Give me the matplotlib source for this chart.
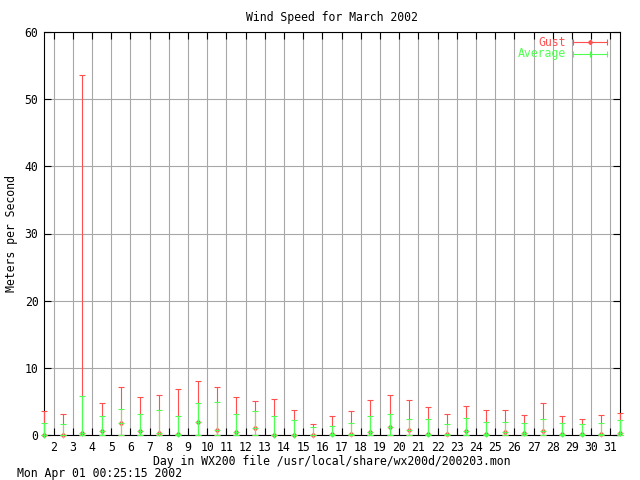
import matplotlib
matplotlib.use("Agg")
import matplotlib.pyplot as plt
import numpy as np

days = list(range(1, 32))
gust_max = [3.55, 3.1, 53.6, 4.75, 7.15, 5.65, 5.95, 6.85, 8.05, 7.15, 5.65, 5.05, 5.35, 3.7, 1.6, 2.8,
            3.55, 5.2, 5.95, 5.2, 4.15, 3.1, 4.3, 3.7, 3.7, 2.95, 4.75, 2.8, 2.35, 2.95, 3.25]
avg_max = [1.75, 1.6, 5.8, 2.8, 3.85, 3.15, 3.7, 2.8, 4.75, 4.9, 3.15, 3.55, 2.8, 2.2, 1.15, 1.3,
           1.8, 2.8, 3.1, 2.35, 2.35, 1.6, 2.5, 1.9, 1.9, 1.75, 2.35, 1.75, 1.6, 1.75, 2.2]
point_val = [0, 0, 0.25, 0.6, 1.75, 0.6, 0.25, 0.15, 1.9, 0.75, 0.45, 1.0, 0.05, 0.05, 0, 0.1,
             0.1, 0.45, 1.15, 0.75, 0.1, 0.1, 0.65, 0.1, 0.45, 0.25, 0.65, 0.1, 0.1, 0.1, 0.25]
low = [0] * 31
xticks = list(range(2, 32))
yticks = [0, 10, 20, 30, 40, 50, 60]

RED = '#ff5050'
GREEN = '#50ff50'
GREY = '#a8a8a8'
FONT = 'DejaVu Sans Mono'
FS = 8.3
LW = 0.8

fig = plt.figure(figsize=(6.4, 4.8), dpi=100)
ax = fig.add_axes([44/640, 1-435/480, 576/640, 403/480])

x = np.array(days) + 0.5
pv = np.array(point_val)
# gust
c1 = ax.errorbar(x, pv, yerr=[pv - np.array(low), np.array(gust_max) - pv], fmt='D', color=RED,
                 ms=2.2, mew=0.8, elinewidth=LW, capsize=2.3, capthick=LW, zorder=3)
# average
c2 = ax.errorbar(x, pv, yerr=[pv - np.array(low), np.array(avg_max) - pv], fmt='+', color=GREEN,
                 ms=4.5, mew=LW, elinewidth=LW, capsize=2.3, capthick=LW, zorder=4)
for c in (c1, c2):
    for art in c.get_children():
        art.set_clip_on(False)

ax.set_xlim(1.5, 31.5)
ax.set_ylim(0, 60)
ax.set_xticks(xticks)
ax.set_yticks(yticks)
ax.set_xticklabels([str(t) for t in xticks], fontfamily=FONT, fontsize=FS)
ax.set_yticklabels([str(t) for t in yticks], fontfamily=FONT, fontsize=FS)
ax.tick_params(direction='in', length=5, width=LW, top=True, right=True, pad=4, colors='black')
ax.grid(True, color=GREY, linewidth=LW, zorder=0)
ax.set_axisbelow(True)
for s in ax.spines.values():
    s.set_linewidth(LW)

ax.set_title('Wind Speed for March 2002', fontfamily=FONT, fontsize=FS, pad=8)
ax.set_xlabel('Day in WX200 file /usr/local/share/wx200d/200203.mon', fontfamily=FONT, fontsize=FS, labelpad=1)
ax.set_ylabel('Meters per Second', fontfamily=FONT, fontsize=FS, labelpad=5)

# legend (manual, gnuplot style)
tr = ax.transAxes
def px2ax(px, py):
    return ((px - 44) / 576, (435 - py) / 403)

for label, color, py, mk, ms in [('Gust', RED, 42, 'D', 2.2), ('Average', GREEN, 54, '|', 4.5)]:
    tx, ty = px2ax(566, py)
    ax.text(tx, ty, label, transform=tr, ha='right', va='center', color=color,
            fontfamily=FONT, fontsize=FS)
    x0, y0 = px2ax(573, py)
    x1, _ = px2ax(607, py)
    xm, _ = px2ax(590, py)
    ax.plot([x0, x1], [y0, y0], transform=tr, color=color, lw=LW, clip_on=False)
    ax.plot([x0, x1], [y0, y0], transform=tr, color=color, lw=0, marker='|', ms=5, mew=LW, clip_on=False)
    ax.plot([xm], [y0], transform=tr, color=color, lw=0, marker=mk, ms=ms, mew=LW, clip_on=False)

fig.text(17/640, 1-473/480, 'Mon Apr 01 00:25:15 2002', fontfamily=FONT, fontsize=FS, va='center', ha='left')

fig.savefig('out.png', dpi=100)
